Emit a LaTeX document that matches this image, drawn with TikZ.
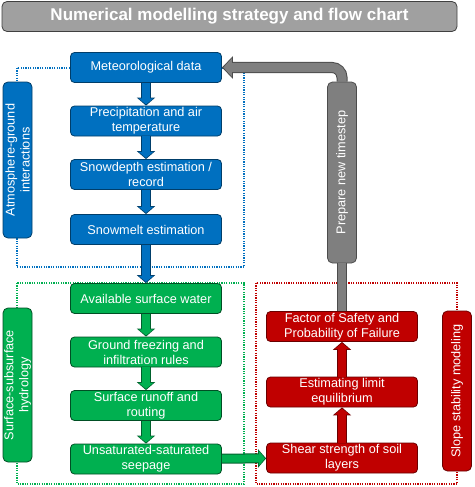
\documentclass[tikz,border=0pt]{standalone}
\usepackage{fontspec}
\setmainfont{Liberation Sans}
\usetikzlibrary{arrows.meta}
\definecolor{cblue}{RGB}{0,112,192}
\definecolor{cgreen}{RGB}{0,176,80}
\definecolor{cred}{RGB}{192,0,0}
\definecolor{cgray}{RGB}{127,127,127}
\definecolor{ctitle}{RGB}{160,160,160}
\tikzstyle{stepbase} = [rectangle, rounded corners=4pt, minimum width=151pt, minimum height=30pt, align=center, inner sep=1pt, text=white, font=\fontsize{12.7}{15}\selectfont, line width=0.8pt]
\tikzstyle{bluebox} = [stepbase, fill=cblue, draw=cblue!55!black]
\tikzstyle{greenbox} = [stepbase, fill=cgreen, draw=cgreen!45!black]
\tikzstyle{redbox} = [stepbase, fill=cred, draw=cred!55!black]
\tikzstyle{sidebox} = [rectangle, rounded corners=5pt, minimum height=29pt, rotate=90, align=center, inner sep=1pt, text=white, font=\fontsize{12.7}{15}\selectfont, line width=0.8pt]
\tikzstyle{zone} = [dash pattern=on 1.2pt off 1.2pt, line width=1.1pt]
\newcommand{\flowarrow}[3]{%
  \draw[line width=10pt, draw=#1!55!black, -{Triangle[length=8pt,width=18pt]}] #2 -- #3;
  \draw[line width=8pt, draw=#1, shorten >=1.2pt, -{Triangle[length=6pt,width=14.5pt]}] #2 -- #3;}

\begin{document}
\begin{tikzpicture}[x=1pt, y=-1pt, node distance=53.5pt]
\useasboundingbox (0,0) rectangle (474,487);

% dotted zones
\draw[zone, draw=cblue] (17,68) rectangle (244,267);
\draw[zone, draw=cgreen] (17,283) rectangle (244,484);
\draw[zone, draw=cred] (256,283) rectangle (457,484);

\node (title) [rectangle, rounded corners=5pt, minimum width=455pt, minimum height=30pt, fill=ctitle, draw=black!75, line width=0.8pt, text=white, font=\fontsize{17}{20}\selectfont\bfseries] at (229.5,16.5) {Numerical modelling strategy and flow chart};

% left column
\node (meteo) [bluebox] at (146,67.5) {Meteorological data};
\node (precip) [bluebox, below of=meteo] {Precipitation and air\\temperature};
\node (snowdepth) [bluebox, below of=precip] {Snowdepth estimation /\\record};
\node (snowmelt) [bluebox, below of=snowdepth, yshift=-1.5pt] {Snowmelt estimation};
\node (water) [greenbox, below of=snowmelt, yshift=-15.5pt] {Available surface water};
\node (freezing) [greenbox, below of=water] {Ground freezing and\\infiltration rules};
\node (runoff) [greenbox, below of=freezing] {Surface runoff and\\routing};
\node (seepage) [greenbox, below of=runoff] {Unsaturated-saturated\\seepage};

% right column
\node (shear) [redbox] at (342,458) {Shear strength of soil\\layers};
\node (limit) [redbox, above of=shear, yshift=12.5pt] {Estimating limit\\equilibrium};
\node (safety) [redbox, above of=limit, yshift=12pt] {Factor of Safety and\\Probability of Failure};
\node (timestep) [sidebox, fill=cgray, draw=black!70, minimum width=181pt] at (342,172.5) {Prepare new timestep};

% side labels
\node (atmo) [sidebox, fill=cblue, draw=cblue!55!black, minimum width=156pt] at (17.5,160) {Atmosphere-ground\\interactions};
\node (hydro) [sidebox, fill=cgreen, draw=cgreen!45!black, minimum width=154pt] at (17.5,385) {Surface-subsurface\\hydrology};
\node (slope) [sidebox, fill=cred, draw=cred!55!black, minimum width=160pt] at (457,391) {Slope stability modeling};

\flowarrow{cblue}{(meteo)}{(precip)}
\flowarrow{cblue}{(precip)}{(snowdepth)}
\flowarrow{cblue}{(snowdepth)}{(snowmelt)}
\flowarrow{cblue}{(snowmelt)}{(water)}
\flowarrow{cgreen}{(water)}{(freezing)}
\flowarrow{cgreen}{(freezing)}{(runoff)}
\flowarrow{cgreen}{(runoff)}{(seepage)}
\flowarrow{cgreen}{(seepage)}{(shear)}
\flowarrow{cred}{(shear)}{(limit)}
\flowarrow{cred}{(limit)}{(safety)}

% time loop
\draw[line width=10pt, draw=black!70] (safety) -- (timestep);
\draw[line width=8pt, draw=cgray] (safety) -- (timestep);
\draw[line width=11pt, draw=black!70, rounded corners=10pt, -{Triangle[length=11pt,width=22pt]}] (timestep.east) |- (meteo.east);
\draw[line width=9pt, draw=cgray, rounded corners=10pt, shorten >=1.5pt, -{Triangle[length=8.5pt,width=18pt]}] (timestep.east) |- (meteo.east);

\end{tikzpicture}
\end{document}
